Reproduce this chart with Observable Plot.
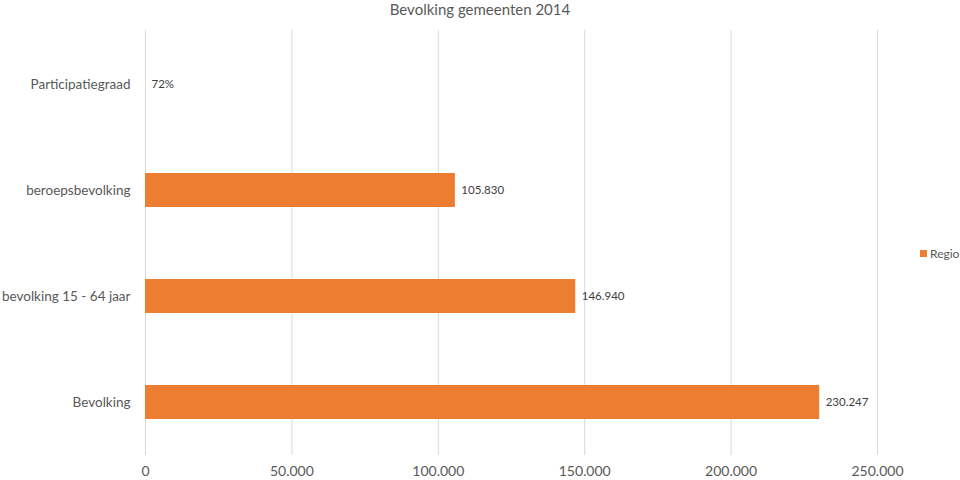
<!DOCTYPE html>
<html>
<head>
<meta charset="utf-8">
<script src="https://cdn.jsdelivr.net/npm/d3@7"></script>
<script src="https://cdn.jsdelivr.net/npm/@observablehq/plot@0.6"></script>
<style>
  html, body { margin: 0; padding: 0; background: #fff; }
  #wrap { position: relative; width: 960px; height: 480px; font-family: Lato, "Open Sans", sans-serif; color: #595959; }
  #title { height: 20px; line-height: 18px; text-align: center; font-size: 15px; }
  #legend { position: absolute; left: 920px; top: 246px; font-size: 12px; display: flex; align-items: center; }
  #legend span.sw { display: inline-block; width: 7px; height: 7px; background: #ED7D31; margin-right: 3px; }
</style>
</head>
<body>
<div id="wrap">
  <div id="title">Bevolking gemeenten 2014</div>
  <div id="chart"></div>
  <div id="legend"><span class="sw"></span><span>Regio</span></div>
</div>
<script>
const categories = ["Participatiegraad", "beroepsbevolking", "bevolking 15 - 64 jaar", "Bevolking"];
const values = [0.72, 105830, 146940, 230247];
const valueLabels = ["72%", "105.830", "146.940", "230.247"];
const xTicks = [0, 50000, 100000, 150000, 200000, 250000];
const seriesName = "Regio";

const nl = d3.formatLocale({decimal: ",", thousands: ".", grouping: [3], currency: ["€", ""]});
const fmt = nl.format(",d");

const data = categories.map((c, i) => ({category: c, value: values[i], label: valueLabels[i], series: seriesName}));

const chart = Plot.plot({
  width: 960,
  height: 460,
  marginTop: 10,
  marginBottom: 25,
  marginLeft: 145,
  marginRight: 83,
  style: {fontFamily: "Lato, 'Open Sans', sans-serif", color: "#595959", fontSize: "14px", background: "#fff"},
  x: {domain: [0, 250000], ticks: xTicks, tickFormat: fmt, label: null, tickSize: 0, tickPadding: 11},
  y: {domain: categories, paddingInner: 0.68, paddingOuter: 0.34, label: null, tickSize: 0, tickPadding: 15},
  marks: [
    Plot.gridX(xTicks, {stroke: "#d9d9d9", strokeOpacity: 1, strokeWidth: 1}),
    Plot.barX(data, {x: "value", y: "category", fill: "#ED7D31"}),
    Plot.text(data, {x: "value", y: "category", text: "label", textAnchor: "start", dx: 6, fill: "#404040", fontSize: 11.5}),
    Plot.axisX({ticks: xTicks, tickFormat: fmt, tickSize: 0, tickPadding: 11, label: null, fontSize: 14}),
    Plot.axisY({tickSize: 0, tickPadding: 15, label: null, fontSize: 13.5})
  ]
});
document.getElementById("chart").appendChild(chart);
</script>
</body>
</html>
